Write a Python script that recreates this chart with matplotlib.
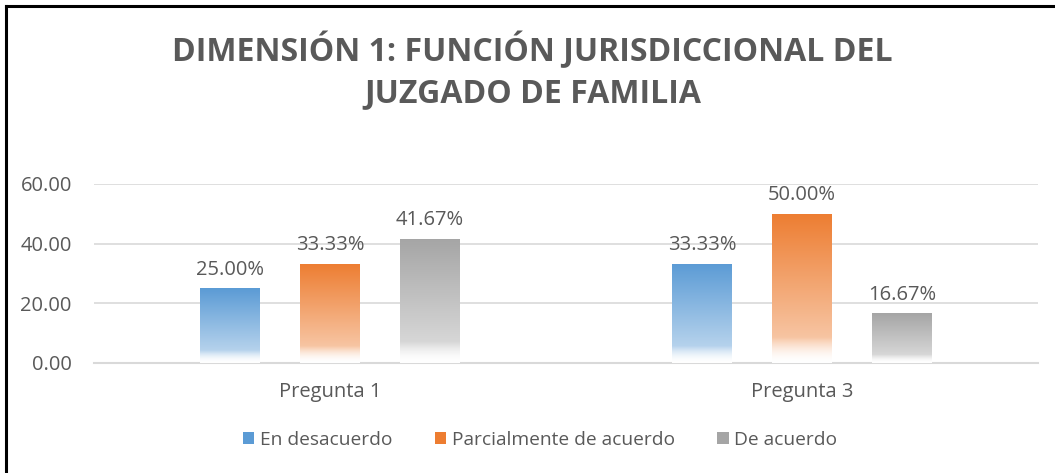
import numpy as np
import matplotlib
matplotlib.use("Agg")
import matplotlib.pyplot as plt
from matplotlib.colors import to_rgb
from matplotlib.lines import Line2D
from matplotlib.patches import Patch

# datos
categorias = ["Pregunta 1", "Pregunta 3"]
series = ["En desacuerdo", "Parcialmente de acuerdo", "De acuerdo"]
en_desacuerdo = [25.00, 33.33]
parcialmente = [33.33, 50.00]
de_acuerdo = [41.67, 16.67]
colores = ["#5b9bd5", "#ed7d31", "#a5a5a5"]

titulo = "DIMENSIÓN 1: FUNCIÓN JURISDICCIONAL DEL\nJUZGADO DE FAMILIA"
texto_gris = "#595959"

plt.rcParams["font.family"] = ["Open Sans", "DejaVu Sans"]

fig = plt.figure(figsize=(10.55, 4.73), dpi=100)
ax = fig.add_axes([0.0891, 0.2326, 0.8948, 0.3784])


def gradiente(color, n=256):
    # de arriba (color) hacia abajo (blanco), como el degradado de Excel
    c = np.array(to_rgb(color))
    w = np.ones(3)
    t = np.linspace(0, 1, n)  # 0 = abajo, 1 = arriba
    img = np.zeros((n, 1, 3))
    for i, v in enumerate(t):
        if v < 0.17:
            f = 0.45 * (v / 0.17) ** 1.8
        else:
            f = 0.45 + 0.55 * (v - 0.17) / 0.83
        img[i, 0] = w * (1 - f) + c * f
    return img


x = np.arange(len(categorias))
ancho = 0.127
paso = 0.212
valores = [en_desacuerdo, parcialmente, de_acuerdo]

for k, (vals, col) in enumerate(zip(valores, colores)):
    pos = x + (k - 1) * paso
    barras = ax.bar(pos, vals, width=ancho, color="none", edgecolor="none", zorder=3)
    for b in barras:
        x0, y0 = b.get_x(), b.get_y()
        w, h = b.get_width(), b.get_height()
        im = ax.imshow(gradiente(col), extent=[x0, x0 + w, y0, y0 + h],
                       origin="lower", aspect="auto", zorder=3)
        im.set_clip_path(b)
    ax.bar_label(barras, labels=[f"{v:.2f}%" for v in vals], padding=6,
                 fontsize=14.5, color=texto_gris)

ax.set_xlim(-0.5, 1.5)
ax.set_ylim(0, 60)
ax.set_yticks([0, 20, 40, 60])
ax.set_yticklabels([f"{v:.2f}" for v in [0, 20, 40, 60]])
ax.set_xticks(x)
ax.set_xticklabels(categorias)
ax.tick_params(axis="both", length=0, labelsize=14.5, colors=texto_gris)
ax.tick_params(axis="x", pad=14)
ax.tick_params(axis="y", pad=16)
ax.grid(axis="y", color="#d9d9d9", linewidth=1.2, zorder=0)
ax.set_axisbelow(True)
for s in ["top", "right", "left"]:
    ax.spines[s].set_visible(False)
ax.spines["bottom"].set_color("#d9d9d9")
ax.spines["bottom"].set_linewidth(1.5)

fig.text(0.505, 0.85, titulo, ha="center", va="center", fontsize=23,
         fontweight="bold", color=texto_gris, linespacing=1.3)

handles = [Patch(facecolor=c, edgecolor="none") for c in colores]
fig.legend(handles, series, loc="center", bbox_to_anchor=(0.512, 0.07),
           ncol=3, frameon=False, fontsize=13.8, handlelength=0.6,
           handleheight=0.6, handletextpad=0.3, columnspacing=2.2,
           labelcolor=texto_gris)

# borde recortado (arriba e izquierda)
fig.add_artist(Line2D([0.0057, 0.0057], [0, 0.987], color="black", lw=2.2,
                      transform=fig.transFigure))
fig.add_artist(Line2D([0.0057, 1], [0.987, 0.987], color="black", lw=2.2,
                      transform=fig.transFigure))

fig.savefig("out.png", dpi=100)
